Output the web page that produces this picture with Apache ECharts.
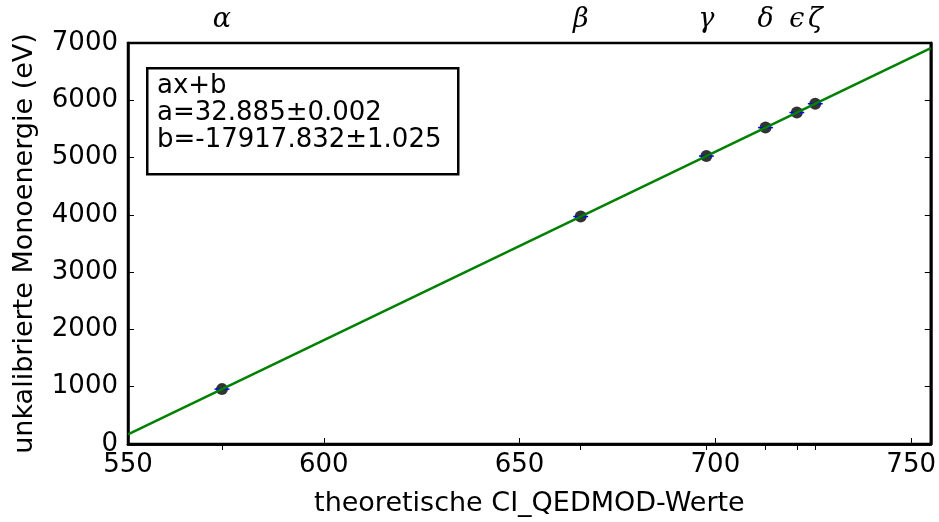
<!DOCTYPE html>
<html>
<head>
<meta charset="utf-8">
<script src="https://cdn.jsdelivr.net/npm/echarts@6/dist/echarts.min.js"></script>
<style>html,body{margin:0;padding:0;background:#fff}#c{width:939px;height:522px}</style>
</head>
<body>
<div id="c"></div>
<script>
// Measured points (theoretical value, uncalibrated energy)
var pointX = [574.0, 665.6, 697.7, 712.8, 720.8, 725.5];
var pointY = [958, 3970, 5026, 5523, 5786, 5940];
var pointXErr = [1.9, 1.9, 1.9, 1.9, 1.9, 1.9];
// Fit line endpoints
var fitX = [550, 755];
var fitY = [169, 6910];
// Top labels
var topTickValues = [574.0, 665.6, 697.7, 712.8, 720.8, 725.5];
var topTickLabels = ['α', 'β', 'γ', 'δ', 'ϵ', 'ζ'];
// Axis ticks
var xTicks = [550, 600, 650, 700, 750];
var yTicks = [0, 1000, 2000, 3000, 4000, 5000, 6000, 7000];
var fitText = ['ax+b', 'a=32.885±0.002', 'b=-17917.832±1.025'];

var FONT = 'DejaVu Sans';
var chart = echarts.init(document.getElementById('c'), null, {renderer: 'canvas'});

var pts = pointX.map(function (x, i) { return [x, pointY[i], pointXErr[i]]; });
var fit = fitX.map(function (x, i) { return [x, fitY[i]]; });

var option = {
  animation: false,
  backgroundColor: '#fff',
  grid: {left: 128, right: 7, top: 43, bottom: 78, show: true, borderColor: '#000', borderWidth: 2.5, backgroundColor: 'transparent'},
  xAxis: [{
    type: 'value', min: 550, max: 755, position: 'bottom',
    axisLine: {show: true, lineStyle: {color: '#000', width: 2.5}},
    axisTick: {show: true, inside: true, length: 6, lineStyle: {color: '#000', width: 1}, customValues: xTicks},
    axisLabel: {show: true, color: '#000', fontFamily: FONT, fontSize: 26, margin: 8, customValues: xTicks},
    splitLine: {show: false},
    name: 'theoretische CI_QEDMOD-Werte', nameLocation: 'middle', nameGap: 46,
    nameTextStyle: {color: '#000', fontFamily: FONT, fontSize: 27}
  }, {
    type: 'value', min: 550, max: 755, position: 'top',
    axisLine: {show: true, lineStyle: {color: '#000', width: 2.5}},
    axisTick: {show: true, inside: true, length: 6, lineStyle: {color: '#000', width: 1}, customValues: topTickValues},
    axisLabel: {show: true, color: '#000', fontFamily: 'DejaVu Serif', fontStyle: 'italic', fontSize: 27, margin: 10,
      customValues: topTickValues,
      formatter: function (v) {
        var best = 0, d = Infinity;
        for (var i = 0; i < topTickValues.length; i++) { var dd = Math.abs(topTickValues[i] - v); if (dd < d) { d = dd; best = i; } }
        return topTickLabels[best];
      }},
    splitLine: {show: false}
  }],
  yAxis: [{
    type: 'value', min: 0, max: 7000, interval: 1000, position: 'left',
    axisLine: {show: true, lineStyle: {color: '#000', width: 2.5}},
    axisTick: {show: true, inside: true, length: 6, lineStyle: {color: '#000', width: 1}},
    axisLabel: {show: true, color: '#000', fontFamily: FONT, fontSize: 26, margin: 10,
      formatter: function (v) { return String(v); }},
    splitLine: {show: false},
    name: 'unkalibrierte Monoenergie (eV)', nameLocation: 'middle', nameGap: 90, nameRotate: 90,
    nameTextStyle: {color: '#000', fontFamily: FONT, fontSize: 27}
  }, {
    type: 'value', min: 0, max: 7000, interval: 1000, position: 'right',
    axisLine: {show: true, lineStyle: {color: '#000', width: 2.5}},
    axisTick: {show: true, inside: true, length: 6, lineStyle: {color: '#000', width: 1}},
    axisLabel: {show: false},
    splitLine: {show: false}
  }],
  series: [{
    type: 'scatter', xAxisIndex: 0, yAxisIndex: 0, data: pts, symbol: 'circle', symbolSize: 12,
    itemStyle: {color: '#000'}, z: 2
  }, {
    type: 'custom', xAxisIndex: 0, yAxisIndex: 0, data: pts, z: 3,
    renderItem: function (params, api) {
      var x = api.value(0), y = api.value(1), e = api.value(2);
      var p1 = api.coord([x - e, y]), p2 = api.coord([x + e, y]);
      return {type: 'line', shape: {x1: p1[0], y1: p1[1], x2: p2[0], y2: p2[1]}, style: {stroke: '#0000ff', lineWidth: 1.5}};
    }
  }, {
    type: 'line', xAxisIndex: 0, yAxisIndex: 0, data: fit, symbol: 'none',
    lineStyle: {color: '#008000', width: 2.5}, z: 4
  }],
  graphic: [{
    type: 'rect', left: 146, top: 67, shape: {width: 311, height: 106},
    style: {fill: '#fff', stroke: '#000', lineWidth: 2.5}, z: 10
  }, {
    type: 'text', left: 157, top: 73, z: 11,
    style: {text: fitText.join('\n'), fontFamily: FONT, fontSize: 26, lineHeight: 27, fill: '#000'}
  }]
};
chart.setOption(option);
</script>
</body>
</html>
